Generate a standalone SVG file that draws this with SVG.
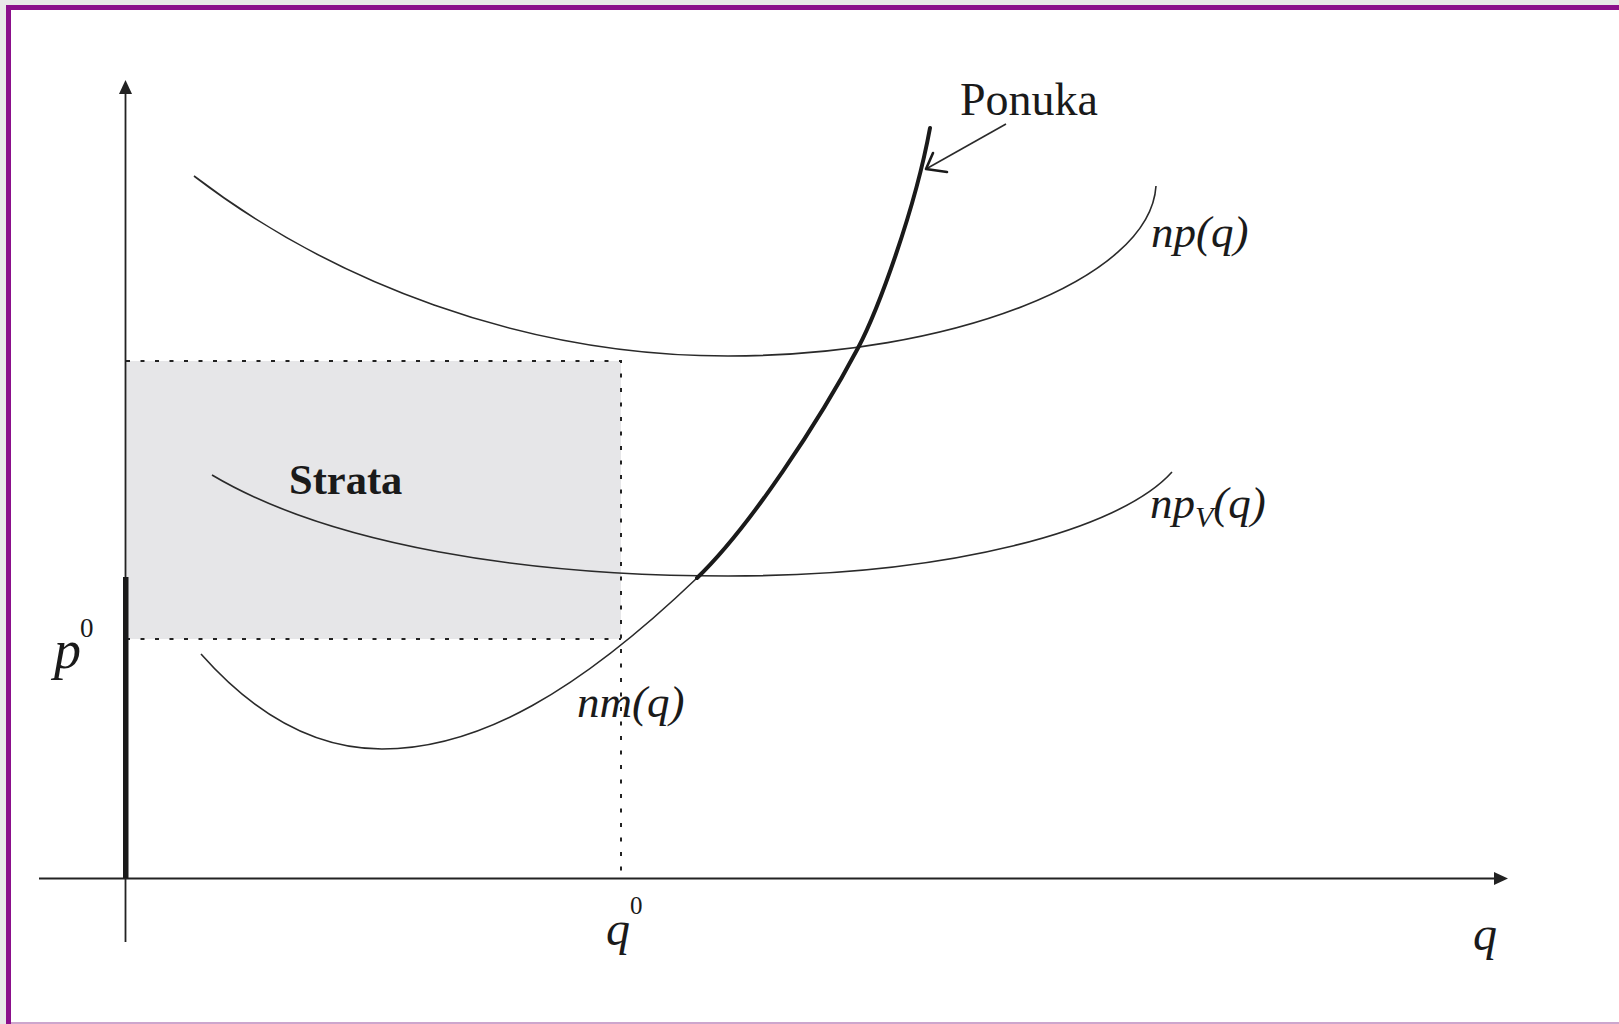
<svg xmlns="http://www.w3.org/2000/svg" width="1619" height="1024" viewBox="0 0 1619 1024">
<defs>
<style>
.ax{stroke:#222;stroke-width:1.8;fill:none}
.cv{stroke:#2a2a2a;stroke-width:1.6;fill:none}
.thick{stroke:#1a1a1a;stroke-width:4;fill:none;stroke-linecap:round}
.barb{stroke:#1a1a1a;stroke-width:2.6;fill:none;stroke-linecap:round}
.dot{stroke:#222;stroke-width:2;stroke-dasharray:4 10.5;fill:none}
.lbl{font-family:"Liberation Serif","Times New Roman",serif;fill:#1a1a1a}
.it{font-style:italic}
</style>
</defs>
<rect x="0" y="0" width="1619" height="1024" fill="#e8e8e8"/>
<rect x="11" y="10" width="1608" height="1014" fill="#ffffff"/>
<rect x="6" y="5" width="1613" height="5" fill="#8b0f8b"/>
<rect x="6" y="5" width="5" height="1019" fill="#8b0f8b"/>
<rect x="11" y="1022" width="1608" height="2" fill="#cda6cd"/>

<g id="strata-area">
<rect x="126" y="361" width="495" height="278" fill="#e6e6e8"/>
</g>

<g id="connectors">
<path class="dot" d="M126,361 H621 V878"/>
<path class="dot" d="M126,639 H621"/>
<!-- axes -->
<path class="ax" d="M125.5,942 V92"/>
<path d="M125.5,80 L119,94 L132,94 Z" fill="#222"/>
<path class="ax" d="M39,878.5 H1496"/>
<path d="M1508,878.5 L1494,872 L1494,885 Z" fill="#222"/>
<rect x="123" y="577" width="5.5" height="301" fill="#1a1a1a"/>
<!-- np(q) -->
<path class="cv" d="M194,176 C330,280 520,356 728,356 C950,356 1150,280 1156,186"/>
<!-- npV(q) -->
<path class="cv" d="M212,475 C330,545 525,576 728,576 C950,576 1120,530 1172,472"/>
<!-- nm(q) -->
<path class="cv" d="M201,654 C255,715 315,749 382,749 C480,749 580,690 697,578"/>
<!-- supply (Ponuka) -->
<path class="thick" d="M697,578 C750,527 820,420 858,348 C878,310 915,210 930,128"/>
<!-- Ponuka pointer -->
<path class="cv" d="M1006,124 L926,169"/>
<path class="barb" d="M926,169 L947,172 M926,169 L933,153"/>
</g>

<g id="labels">
<text class="lbl" x="960" y="115" font-size="46">Ponuka</text>
<text class="lbl it" x="1151" y="247" font-size="45">np(q)</text>
<text class="lbl it" x="1150" y="518" font-size="45">np<tspan font-size="30" dy="9">V</tspan><tspan dy="-9">(q)</tspan></text>
<text class="lbl it" x="577" y="717" font-size="45">nm(q)</text>
<text class="lbl" x="289" y="494" font-size="42.5" font-weight="bold">Strata</text>
<text class="lbl it" x="54" y="668" font-size="54">p</text>
<text class="lbl" x="80" y="637" font-size="27">0</text>
<text class="lbl it" x="606" y="945" font-size="48">q</text>
<text class="lbl" x="630" y="914" font-size="25">0</text>
<text class="lbl it" x="1473" y="950" font-size="48">q</text>
</g>
</svg>
